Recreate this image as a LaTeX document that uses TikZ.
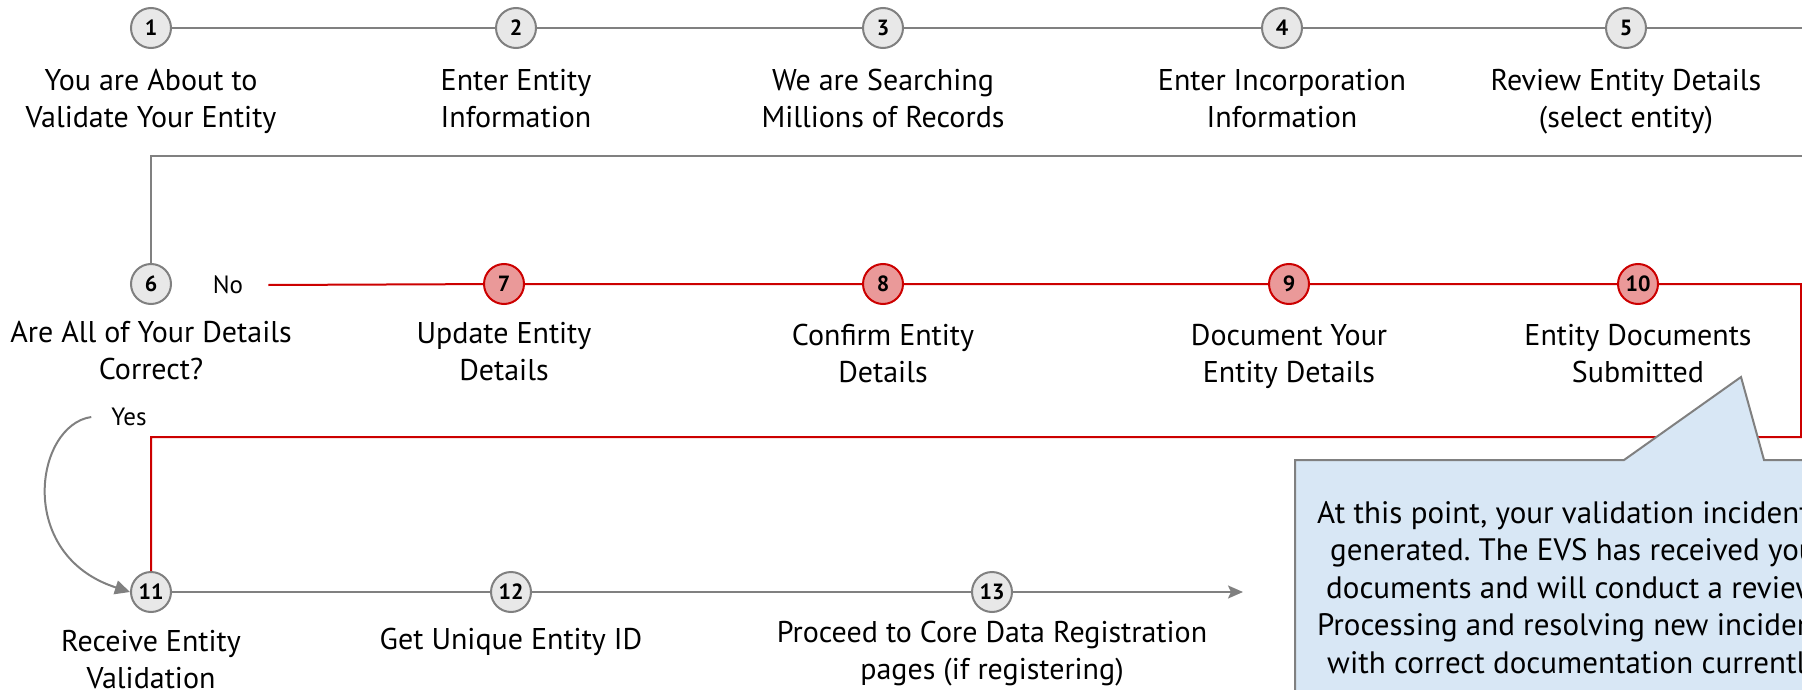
\documentclass[tikz,border=0pt]{standalone}
\usepackage{fontspec}
\setmainfont{PT Sans}
\usetikzlibrary{arrows.meta, positioning}
\definecolor{stepgray}{RGB}{128, 128, 128}
\definecolor{stepfill}{RGB}{232, 232, 232}
\definecolor{fixred}{RGB}{204, 0, 0}
\definecolor{fixfill}{RGB}{234, 153, 153}
\definecolor{noteblue}{RGB}{216, 231, 245}
\frenchspacing

\begin{document}
\begin{tikzpicture}[x=1pt, y=-1pt,
  stepdot/.style={circle, draw=stepgray, fill=stepfill, line width=2pt, minimum size=40pt, inner sep=0pt, font=\fontsize{22}{22}\selectfont\bfseries},
  fixdot/.style={stepdot, draw=fixred, fill=fixfill},
  steplabel/.style={align=center, inner sep=0pt, font=\fontsize{30}{37}\selectfont},
  answer/.style={inner sep=0pt, font=\fontsize{25}{25}\selectfont},
  grayline/.style={draw=stepgray, line width=2pt},
  redline/.style={draw=fixred, line width=2pt}]
  \clip (0,0) rectangle (1802,690);

  % first row
  \node[stepdot] (n1) at (151, 28) {1};
  \node[stepdot] (n2) at (516, 28) {2};
  \node[stepdot] (n3) at (883, 28) {3};
  \node[stepdot] (n4) at (1282, 28) {4};
  \node[stepdot] (n5) at (1626, 28) {5};
  \node[steplabel, below=20pt of n1] (t1) {You are About to\\Validate Your Entity};
  \node[steplabel, below=20pt of n2] (t2) {Enter Entity\\Information};
  \node[steplabel, below=20pt of n3] (t3) {We are Searching\\Millions of Records};
  \node[steplabel, below=20pt of n4] (t4) {Enter Incorporation\\Information};
  \node[steplabel, below=20pt of n5] (t5) {Review Entity Details\\(select entity)};

  % second row
  \node[stepdot] (n6) at (151, 284) {6};
  \node[fixdot] (n7) at (504, 284) {7};
  \node[fixdot] (n8) at (883, 284) {8};
  \node[fixdot] (n9) at (1289, 284) {9};
  \node[fixdot] (n10) at (1638, 284) {10};
  \node[steplabel, below=16pt of n6] (t6) {Are All of Your Details\\Correct?};
  \node[steplabel, below=17pt of n7] (t7) {Update Entity\\Details};
  \node[steplabel, below=19pt of n8] (t8) {Confirm Entity\\Details};
  \node[steplabel, below=19pt of n9] (t9) {Document Your\\Entity Details};
  \node[steplabel, below=19pt of n10] (t10) {Entity Documents\\Submitted};
  \node[answer] (no) at (228, 285) {No};
  \node[answer] (yes) at (129, 417) {Yes};

  % third row
  \node[stepdot] (n11) at (151, 592) {11};
  \node[stepdot] (n12) at (511, 592) {12};
  \node[stepdot] (n13) at (992, 592) {13};
  \node[steplabel, below=17pt of n11] (t11) {Receive Entity\\Validation};
  \node[steplabel, below=15pt of n12] (t12) {Get Unique Entity ID};
  \node[steplabel, below=8pt of n13] (t13) {Proceed to Core Data Registration\\pages (if registering)};

  \coordinate (topend) at (1802, 28);
  \coordinate (backne) at (1802, 156);
  \coordinate (backnw) at (151, 156);
  \coordinate (redne) at (1801, 284);
  \coordinate (redse) at (1801, 437);
  \coordinate (redsw) at (151, 437);
  \coordinate (rowend) at (1243, 592);

  \draw[grayline] (n1) -- (n2) -- (n3) -- (n4) -- (n5) -- (topend);
  \draw[grayline] (backne) -- (backnw) -- (n6);
  \draw[redline] ([xshift=25pt]no.east) -- (n7) -- (n8) -- (n9) -- (n10) -- (redne) -- (redse) -- (redsw) -- (n11);
  \draw[grayline, -{Triangle[length=15pt, width=14pt]}] ([xshift=-20pt]yes.west) .. controls (35, 425) and (15, 555) .. (n11.west);
  \draw[grayline, -{Stealth[length=15pt, width=13pt, inset=3pt]}] (n11) -- (n12) -- (n13) -- (rowend);

  % note with pointer to step 10
  \draw[draw=stepgray, line width=2pt, fill=noteblue] (1295, 460) -- (1624, 460) -- (1741, 377) -- (1764, 460) -- (1812, 460) -- (1812, 700) -- (1295, 700) -- cycle;
  \node[anchor=north west, align=left, inner sep=0pt, font=\fontsize{31}{37.5}\selectfont] (note) at (1317, 501) {%
    At this point, your validation incident\\
    \hspace*{13pt}generated. The EVS has received your\\
    \hspace*{9pt}documents and will conduct a review\\
    Processing and resolving new incidents\\
    \hspace*{10pt}with correct documentation currently};
\end{tikzpicture}
\end{document}
